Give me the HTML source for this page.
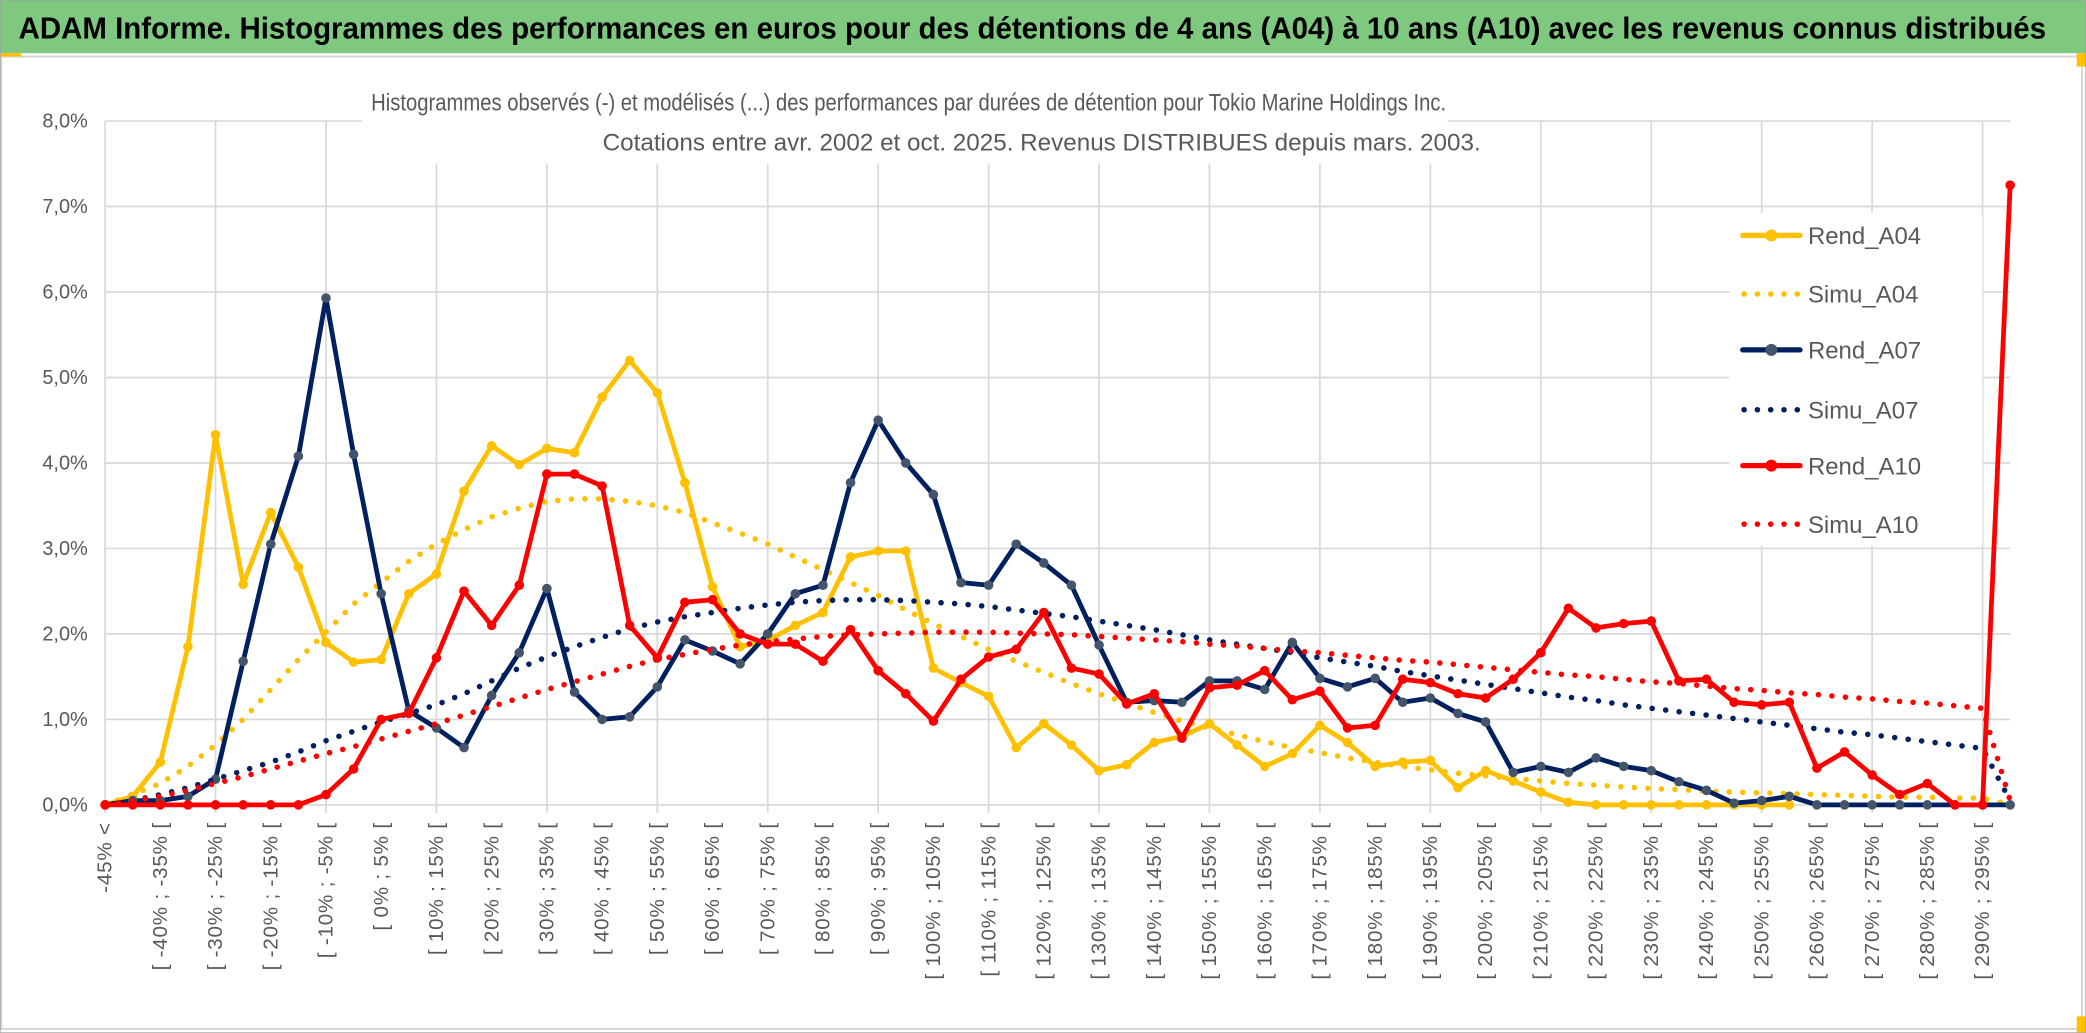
<!DOCTYPE html>
<html><head><meta charset="utf-8"><style>
html,body{margin:0;padding:0;background:#fff;}
svg{display:block;font-family:"Liberation Sans",sans-serif;}
</style></head><body>
<svg id="chart" width="2086" height="1033" viewBox="0 0 1568 776.5" preserveAspectRatio="none" xmlns="http://www.w3.org/2000/svg">
<rect x="0" y="0" width="1568" height="776.5" fill="#fff"/>
<rect x="0" y="0" width="1568" height="40" fill="#7EC97F"/>
<text x="14" y="29" font-size="23" font-weight="bold" fill="#000" textLength="1524" lengthAdjust="spacingAndGlyphs">ADAM Informe. Histogrammes des performances en euros pour des détentions de 4 ans (A04) à 10 ans (A10) avec les revenus connus distribués</text>
<rect x="1" y="42.5" width="1564" height="731" fill="none" stroke="#d6d6d6" stroke-width="1.5"/>
<rect x="0" y="40" width="16" height="2.5" fill="#FFC000"/>
<rect x="1561" y="40" width="7" height="10" fill="#FFC000"/>
<rect x="1561" y="764" width="7" height="12" fill="#FFC000"/>
<rect x="0" y="0" width="1568" height="776.5" fill="none" stroke="#a0a0a0" stroke-width="1"/>
<g id="grid"></g>
<rect x="272" y="60" width="816" height="63" fill="#fff"/>
<text x="683" y="83" text-anchor="middle" font-size="18" fill="#595959" textLength="808" lengthAdjust="spacingAndGlyphs">Histogrammes observés (-) et modélisés (...) des performances par durées de détention pour Tokio Marine Holdings Inc.</text>
<text x="783" y="113" text-anchor="middle" font-size="18" fill="#595959" textLength="660" lengthAdjust="spacingAndGlyphs">Cotations entre avr. 2002 et oct. 2025. Revenus DISTRIBUES depuis mars. 2003.</text>
<g id="yaxis"></g>
<g id="xaxis"></g>
<g id="series"></g>
<g id="legend"></g>
</svg>
<script>
const categories = ["-45% <","[ -45% ; -40% [","[ -40% ; -35% [","[ -35% ; -30% [","[ -30% ; -25% [","[ -25% ; -20% [","[ -20% ; -15% [","[ -15% ; -10% [","[ -10% ; -5% [","[ -5% ; 0% [","[ 0% ; 5% [","[ 5% ; 10% [","[ 10% ; 15% [","[ 15% ; 20% [","[ 20% ; 25% [","[ 25% ; 30% [","[ 30% ; 35% [","[ 35% ; 40% [","[ 40% ; 45% [","[ 45% ; 50% [","[ 50% ; 55% [","[ 55% ; 60% [","[ 60% ; 65% [","[ 65% ; 70% [","[ 70% ; 75% [","[ 75% ; 80% [","[ 80% ; 85% [","[ 85% ; 90% [","[ 90% ; 95% [","[ 95% ; 100% [","[ 100% ; 105% [","[ 105% ; 110% [","[ 110% ; 115% [","[ 115% ; 120% [","[ 120% ; 125% [","[ 125% ; 130% [","[ 130% ; 135% [","[ 135% ; 140% [","[ 140% ; 145% [","[ 145% ; 150% [","[ 150% ; 155% [","[ 155% ; 160% [","[ 160% ; 165% [","[ 165% ; 170% [","[ 170% ; 175% [","[ 175% ; 180% [","[ 180% ; 185% [","[ 185% ; 190% [","[ 190% ; 195% [","[ 195% ; 200% [","[ 200% ; 205% [","[ 205% ; 210% [","[ 210% ; 215% [","[ 215% ; 220% [","[ 220% ; 225% [","[ 225% ; 230% [","[ 230% ; 235% [","[ 235% ; 240% [","[ 240% ; 245% [","[ 245% ; 250% [","[ 250% ; 255% [","[ 255% ; 260% [","[ 260% ; 265% [","[ 265% ; 270% [","[ 270% ; 275% [","[ 275% ; 280% [","[ 280% ; 285% [","[ 285% ; 290% [","[ 290% ; 295% [","[ 295% ; 300% ["];
const yTicks = [0,1,2,3,4,5,6,7,8];
const yTickLabels = ["0,0%","1,0%","2,0%","3,0%","4,0%","5,0%","6,0%","7,0%","8,0%"];
const rendA04 = [0,0.1,0.5,1.85,4.33,2.58,3.42,2.78,1.9,1.67,1.7,2.47,2.7,3.67,4.2,3.98,4.17,4.12,4.77,5.2,4.82,3.77,2.55,1.85,1.92,2.1,2.25,2.9,2.97,2.97,1.6,1.43,1.27,0.67,0.95,0.7,0.4,0.47,0.73,0.8,0.95,0.7,0.45,0.6,0.93,0.73,0.45,0.5,0.52,0.2,0.4,0.28,0.15,0.03,0,0,0,0,0,0,0,0,null,null,null,null,null,null,null,null];
const simuA04 = [0,0.12,0.25,0.45,0.7,1.0,1.35,1.7,2.02,2.35,2.6,2.85,3.05,3.22,3.37,3.47,3.55,3.58,3.58,3.55,3.5,3.42,3.3,3.18,3.05,2.9,2.75,2.6,2.45,2.28,2.12,1.97,1.82,1.68,1.55,1.42,1.3,1.19,1.08,0.98,0.9,0.82,0.74,0.67,0.61,0.55,0.5,0.45,0.41,0.37,0.34,0.31,0.28,0.25,0.23,0.21,0.19,0.18,0.16,0.15,0.14,0.13,0.12,0.11,0.1,0.09,0.09,0.08,0.08,0];
const rendA07 = [0,0.05,0.05,0.1,0.3,1.68,3.05,4.08,5.93,4.1,2.47,1.1,0.9,0.67,1.28,1.78,2.53,1.32,1.0,1.03,1.38,1.93,1.8,1.65,2.0,2.47,2.57,3.77,4.5,4.0,3.63,2.6,2.57,3.05,2.83,2.57,1.87,1.2,1.22,1.2,1.45,1.45,1.35,1.9,1.48,1.38,1.48,1.2,1.25,1.07,0.97,0.38,0.45,0.38,0.55,0.45,0.4,0.27,0.17,0.02,0.05,0.1,0,0,0,0,0,0,0,0];
const simuA07 = [0,0.05,0.12,0.2,0.3,0.4,0.5,0.62,0.75,0.86,0.97,1.07,1.17,1.3,1.45,1.6,1.73,1.85,1.96,2.06,2.14,2.2,2.25,2.3,2.34,2.37,2.39,2.4,2.4,2.39,2.37,2.35,2.32,2.28,2.24,2.2,2.15,2.1,2.05,1.99,1.93,1.88,1.83,1.78,1.72,1.67,1.62,1.56,1.51,1.46,1.41,1.36,1.31,1.26,1.22,1.17,1.13,1.09,1.05,1.01,0.97,0.93,0.89,0.85,0.82,0.78,0.74,0.7,0.66,0.05];
const rendA10 = [0,0,0,0,0,0,0,0,0.12,0.42,1.0,1.07,1.72,2.5,2.1,2.57,3.87,3.87,3.73,2.1,1.72,2.37,2.4,2.0,1.88,1.88,1.68,2.05,1.57,1.3,0.98,1.47,1.73,1.82,2.25,1.6,1.53,1.18,1.3,0.78,1.37,1.4,1.57,1.23,1.33,0.9,0.93,1.47,1.43,1.3,1.25,1.47,1.78,2.3,2.07,2.12,2.15,1.45,1.47,1.2,1.17,1.2,0.43,0.62,0.35,0.12,0.25,0,0,7.25];
const simuA10 = [0,0.05,0.1,0.17,0.25,0.33,0.42,0.51,0.6,0.68,0.77,0.86,0.95,1.05,1.15,1.25,1.35,1.44,1.53,1.62,1.7,1.76,1.82,1.87,1.91,1.94,1.97,1.99,2.0,2.01,2.02,2.02,2.02,2.01,2.0,1.99,1.97,1.95,1.93,1.91,1.88,1.86,1.83,1.8,1.78,1.75,1.72,1.69,1.67,1.64,1.61,1.58,1.55,1.52,1.5,1.47,1.44,1.42,1.39,1.36,1.34,1.31,1.29,1.26,1.24,1.21,1.19,1.16,1.13,0.05];

const NS = "http://www.w3.org/2000/svg";
const PL = 79, PR = 1511, PT = 91, PB = 605, YMAX = 8;
function xPos(i){ return PL + i * (PR - PL) / (categories.length - 1); }
function yPos(v){ return PB - v * (PB - PT) / YMAX; }
function mk(tag, attrs, parent){ const e = document.createElementNS(NS, tag); for (const k in attrs) e.setAttribute(k, attrs[k]); parent.appendChild(e); return e; }

const grid = document.getElementById('grid');
yTicks.forEach(function(t){
  const l = mk('line', {x1: PL, x2: PR, y1: yPos(t), y2: yPos(t), stroke: '#d9d9d9', 'stroke-width': 1.3}, grid);
  
  
});
for (let i = 0; i < categories.length; i += 4) {
  const l = mk('line', {x1: xPos(i), x2: xPos(i), y1: PT, y2: PB + 6, stroke: '#d9d9d9', 'stroke-width': 1.3}, grid);
  
  
}

const yaxis = document.getElementById('yaxis');
yTicks.forEach(function(t, k){
  const tx = mk('text', {x: 66, y: yPos(t) + 5, 'text-anchor': 'end', 'font-size': 15, fill: '#595959'}, yaxis);
  tx.textContent = yTickLabels[k];
  
  
});

const xaxis = document.getElementById('xaxis');
for (let i = 0; i < categories.length; i += 2) {
  const x = xPos(i) + 5;
  const tx = mk('text', {x: x, y: 618, 'text-anchor': 'end', 'font-size': 15.5, fill: '#595959', 'letter-spacing': '0.6', transform: 'rotate(-90 ' + x + ' 618)'}, xaxis);
  tx.textContent = categories[i];
  
  
}

const series = document.getElementById('series');
function drawLine(data, color, markerColor, name){
  let d = '';
  let started = false;
  data.forEach(function(v, i){
    if (v === null) { started = false; return; }
    d += (started ? 'L' : 'M') + xPos(i).toFixed(1) + ' ' + yPos(v).toFixed(1);
    started = true;
  });
  const p = mk('path', {d: d, fill: 'none', stroke: color, 'stroke-width': 3.6, 'stroke-linejoin': 'round', 'stroke-linecap': 'round'}, series);
  
  
  data.forEach(function(v, i){
    if (v === null) return;
    const c = mk('circle', {cx: xPos(i), cy: yPos(v), r: 3.6, fill: markerColor}, series);
    
    
  });
}
function drawDotted(data, color, name){
  let d = '';
  data.forEach(function(v, i){
    d += (i ? 'L' : 'M') + xPos(i).toFixed(1) + ' ' + yPos(v).toFixed(1);
  });
  const p = mk('path', {d: d, fill: 'none', stroke: color, 'stroke-width': 4.2, 'stroke-dasharray': '0 10.2', 'stroke-linecap': 'round', 'stroke-linejoin': 'round'}, series);
  
  
}
drawLine(rendA04, '#FFC000', '#FFC000', 'rend-a04');
drawDotted(simuA04, '#FFC000', 'simu-a04');
drawLine(rendA07, '#002060', '#44546A', 'rend-a07');
drawDotted(simuA07, '#002060', 'simu-a07');
drawLine(rendA10, '#FF0000', '#FF0000', 'rend-a10');
drawDotted(simuA10, '#FF0000', 'simu-a10');

const legend = document.getElementById('legend');
const lb = mk('rect', {x: 1300, y: 160, width: 190, height: 250, fill: '#fff'}, legend);


const legendNames = ['Rend_A04','Simu_A04','Rend_A07','Simu_A07','Rend_A10','Simu_A10'];
const legendColors = ['#FFC000','#FFC000','#002060','#002060','#FF0000','#FF0000'];
const legendMarkers = ['#FFC000',null,'#44546A',null,'#FF0000',null];
const legendY = [177,221,263,308,350,394];
legendNames.forEach(function(n, k){
  const y = legendY[k];
  if (legendMarkers[k]) {
    const l = mk('line', {x1: 1310, x2: 1353, y1: y, y2: y, stroke: legendColors[k], 'stroke-width': 4, 'stroke-linecap': 'round'}, legend);
    
    
    const c = mk('circle', {cx: 1331.5, cy: y, r: 4.5, fill: legendMarkers[k]}, legend);
    
    
  } else {
    const l = mk('line', {x1: 1311, x2: 1354, y1: y, y2: y, stroke: legendColors[k], 'stroke-width': 4.2, 'stroke-dasharray': '0 10', 'stroke-linecap': 'round'}, legend);
    
    
  }
  const t = mk('text', {x: 1359, y: y + 6.5, 'font-size': 18, fill: '#595959'}, legend);
  t.textContent = n;
  
  
});
</script>
</body></html>
